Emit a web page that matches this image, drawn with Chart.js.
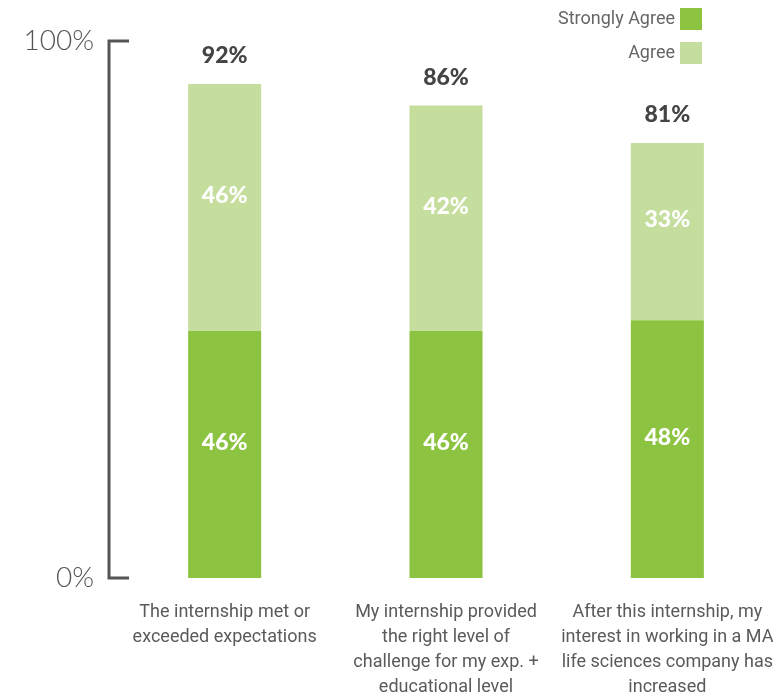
<!DOCTYPE html>
<html>
<head>
<meta charset="utf-8">
<script src="https://cdn.jsdelivr.net/npm/chart.js@4"></script>
<style>
    body { margin: 0; background: #fff; }
    #wrap { position: relative; width: 778px; height: 696px; }
</style>
</head>
<body>
<div id="wrap"><canvas id="barChart"></canvas></div>
<script>
var categories = [
    ["The internship met or", "exceeded expectations"],
    ["My internship provided", "the right level of", "challenge for my exp. +", "educational level"],
    ["After this internship, my", "interest in working in a MA", "life sciences company has", "increased"]
];
var stronglyAgree = [46, 46, 48];
var agree = [46, 42, 33];
var totals = [92, 86, 81];
var seriesNames = ["Strongly Agree", "Agree"];
var colors = ["#8cc340", "#c5de9e"];

// bracket axis, value labels and the top-right key
var decorations = {
    id: 'decorations',
    afterDatasetsDraw: function (chart) {
        var c = chart.ctx;
        var y = chart.scales.y;
        var top = y.getPixelForValue(100);
        var bottom = y.getPixelForValue(0);

        c.save();
        c.strokeStyle = "#555";
        c.lineWidth = 3;
        c.beginPath();
        c.moveTo(129, top);
        c.lineTo(109, top);
        c.lineTo(109, bottom);
        c.lineTo(129, bottom);
        c.stroke();

        c.textAlign = "center";
        c.textBaseline = "middle";
        c.font = "900 23px Lato";
        chart.data.datasets.forEach(function (ds, d) {
            var meta = chart.getDatasetMeta(d);
            meta.data.forEach(function (bar, i) {
                c.fillStyle = "#fff";
                c.fillText(ds.data[i] + "%", bar.x, (bar.y + bar.base) / 2 - 12);
            });
        });
        var last = chart.getDatasetMeta(chart.data.datasets.length - 1);
        last.data.forEach(function (bar, i) {
            c.fillStyle = "#444";
            c.fillText(totals[i] + "%", bar.x, bar.y - 28);
        });

        c.font = "18px Roboto";
        c.textAlign = "right";
        chart.data.datasets.forEach(function (ds, d) {
            var ky = 8 + d * 34;
            c.fillStyle = ds.backgroundColor;
            c.fillRect(680, ky, 22, 22);
            c.fillStyle = "#666";
            c.fillText(ds.label, 675, ky + 11);
        });
        c.restore();
    }
};

var ctx = document.getElementById('barChart');
var mainChart = new Chart(ctx, {
    type: 'bar',
    data: {
        labels: categories,
        datasets: [
            { label: seriesNames[0], backgroundColor: colors[0], data: stronglyAgree },
            { label: seriesNames[1], backgroundColor: colors[1], data: agree }
        ]
    },
    options: {
        responsive: true,
        maintainAspectRatio: false,
        animation: false,
        categoryPercentage: 1,
        barPercentage: 0.33,
        layout: { padding: { top: 41, right: 0, left: 0, bottom: 0 } },
        plugins: {
            legend: { display: false },
            tooltip: { enabled: false }
        },
        scales: {
            x: {
                stacked: true,
                grid: { display: false },
                border: { display: false },
                ticks: {
                    color: "#5a5a5a",
                    font: { family: "Roboto", size: 18, lineHeight: 1.39 },
                    padding: 14,
                    maxRotation: 0,
                    autoSkip: false
                },
                afterFit: function (s) { s.height = 118; s.paddingRight = 0; }
            },
            y: {
                stacked: true,
                min: 0,
                max: 100,
                grid: { display: false },
                border: { display: false },
                ticks: {
                    stepSize: 100,
                    color: "#555",
                    font: { family: "Lato", size: 28, weight: 300 },
                    padding: 12,
                    callback: function (v) { return v + "%"; }
                },
                afterFit: function (s) { s.width = 114; }
            }
        }
    },
    plugins: [decorations]
});
</script>
</body>
</html>
